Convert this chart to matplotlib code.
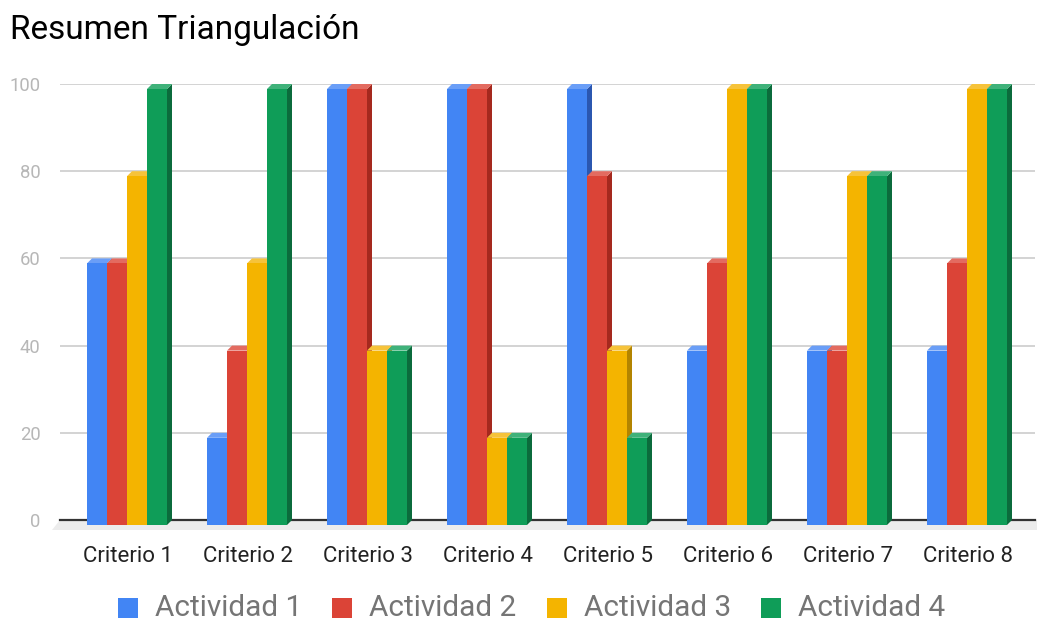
import matplotlib
matplotlib.use("Agg")
import matplotlib.pyplot as plt
from matplotlib.patches import Polygon, Rectangle

categories = ["Criterio 1", "Criterio 2", "Criterio 3", "Criterio 4",
              "Criterio 5", "Criterio 6", "Criterio 7", "Criterio 8"]
series_names = ["Actividad 1", "Actividad 2", "Actividad 3", "Actividad 4"]
actividad1 = [60, 20, 100, 100, 100, 40, 40, 40]
actividad2 = [60, 40, 100, 100, 80, 60, 40, 60]
actividad3 = [80, 60, 40, 20, 40, 100, 80, 100]
actividad4 = [100, 100, 40, 20, 20, 100, 80, 100]
y_ticks = [0, 20, 40, 60, 80, 100]

series = [actividad1, actividad2, actividad3, actividad4]
front_colors = ["#4285f4", "#db4437", "#f4b400", "#0f9d58"]
side_colors = ["#2b57b0", "#a5291e", "#b38400", "#0b6b3c"]
top_colors = ["#6a9ef7", "#e36b60", "#f6c33a", "#3fb27a"]

plt.rcParams["font.family"] = ["Roboto", "DejaVu Sans"]

W, H = 1037, 620
fig = plt.figure(figsize=(W / 100, H / 100), dpi=100)
ax_l, ax_r, ax_t, ax_b = 60, 1035, 84, 520
ax = fig.add_axes([ax_l / W, (H - ax_b) / H, (ax_r - ax_l) / W, (ax_b - ax_t) / H])

px_per_cat = 120.0
first_center = 128.0
xmin = (ax_l - first_center) / px_per_cat
xmax = (ax_r - first_center) / px_per_cat
ax.set_xlim(xmin, xmax)
ax.set_ylim(0, 100)

px_x = 1.0 / px_per_cat
px_y = 100.0 / (ax_b - ax_t)
dx = 5 * px_x
dy = 5 * px_y
bw = 20 * px_x

for s in ax.spines.values():
    s.set_visible(False)

ax.set_yticks(y_ticks)
ax.set_yticklabels([str(t) for t in y_ticks], color="#b7b7b7", fontsize=13.3)
ax.tick_params(axis="y", length=0, pad=14)
ax.set_xticks(range(len(categories)))
ax.set_xticklabels(categories, fontsize=16, color="#222222")
ax.tick_params(axis="x", length=0, pad=19)
for t in y_ticks[1:]:
    ax.axhline(t, color="#cccccc", lw=1.2, zorder=0)

# floor
floor_h = 10 * px_y
ax.add_patch(Polygon([(xmin, 0), (xmin + (W - ax_l) * px_x, 0),
                      (xmin + (W - ax_l) * px_x, -floor_h), (xmin - 8 * px_x, -floor_h)],
                     closed=True, facecolor="#ececec", edgecolor="none",
                     clip_on=False, zorder=0.5))
ax.plot([xmin, xmax], [0, 0], color="#333333", lw=1.6, zorder=1, clip_on=False)

z = 2
for i in range(len(categories)):
    for j, vals in enumerate(series):
        v = vals[i]
        x0 = i - 2 * bw + j * bw - 1 * px_x
        # side face
        ax.add_patch(Polygon([(x0 + bw, -dy), (x0 + bw + dx, 0), (x0 + bw + dx, v), (x0 + bw, v - dy)],
                             closed=True, facecolor=side_colors[j], edgecolor="none",
                             clip_on=False, zorder=z))
        # top face
        ax.add_patch(Polygon([(x0, v - dy), (x0 + bw, v - dy), (x0 + bw + dx, v), (x0 + dx, v)],
                             closed=True, facecolor=top_colors[j], edgecolor="none",
                             clip_on=False, zorder=z))
        # front face
        ax.add_patch(Rectangle((x0, -dy), bw, v, facecolor=front_colors[j], edgecolor="none",
                               clip_on=False, zorder=z + 0.1))
        z += 0.2

fig.text(10 / W, 1 - 30 / H, "Resumen Triangulación", fontsize=24, color="#000000",
         ha="left", va="center")

# legend
for j, name in enumerate(series_names):
    sx = 118 + 214.3 * j
    fig.patches.append(Rectangle((sx / W, 1 - 618 / H), 20 / W, 20 / H,
                                 transform=fig.transFigure, facecolor=front_colors[j],
                                 edgecolor="none"))
    fig.text((sx + 37) / W, 1 - 608 / H, name, fontsize=21.4, color="#757575",
             ha="left", va="center")

fig.savefig("out.png", dpi=100)
